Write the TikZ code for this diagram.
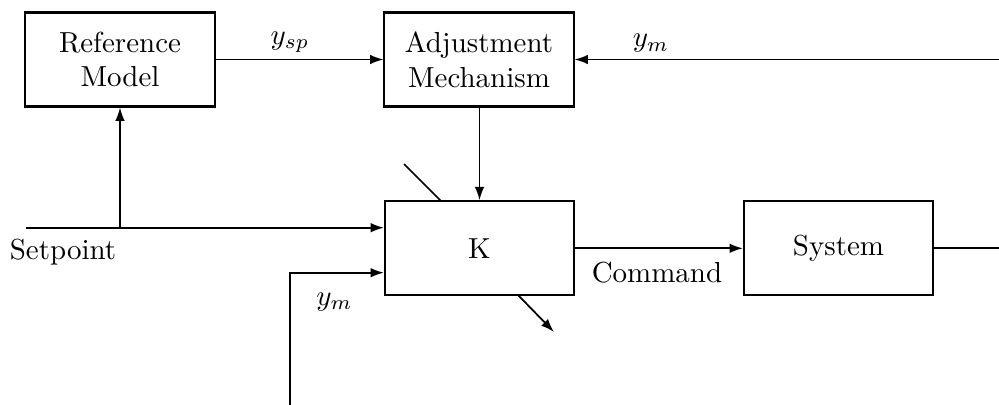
\documentclass[tikz,border=0pt]{standalone}
\usetikzlibrary{arrows.meta,calc}
\begin{document}
\begin{tikzpicture}[x=0.01213cm,y=-0.01213cm,
  blockbox/.style={draw,line width=0.7pt,fill=white,minimum width=2.293cm,minimum height=1.14cm,inner sep=0pt,align=center},
  conn/.style={line width=0.6pt},
  arr/.style={conn,-{Latex[length=4.6pt,width=3.3pt]}},
  lbl/.style={inner sep=0pt}]
\useasboundingbox (0,0) rectangle (999,405);
% diagonal adjustable-parameter arrow (behind K)
\coordinate (d1) at (404,164);
\coordinate (d2) at (441,201);
\coordinate (d3) at (518,295);
\coordinate (d4) at (554,332);
\draw[conn] (d1) -- (d2);
\draw[arr] (d3) -- (d4);
% blocks
\node[blockbox] (ref) at (120,59.5) {Reference\\Model};
\node[blockbox] (adj) at (479,59.5) {Adjustment\\Mechanism};
\node[blockbox] (K) at (479.5,248.3) {K};
\node[blockbox] (sys) at (838.5,248.3) {System};
% free ends
\coordinate (ymtop) at (999,59.5);
\coordinate (sp0) at (26,227.7);
\coordinate (spbr) at (120,227.7);
\coordinate (spin) at (K.west |- sp0);
\coordinate (ymb0) at (290,405);
\coordinate (ymb1) at (290,272.7);
\coordinate (ymin) at (K.west |- ymb1);
\coordinate (out) at (999,248.3);
% connectors
\draw[arr] (ref.east) -- (adj.west);
\draw[arr] (ymtop) -- (adj.east);
\draw[arr] (adj.south -| K.north) -- (K.north);
\draw[arr] (sp0) -- (spin);
\draw[arr] (spbr) -- (ref.south);
\draw[arr] (ymb0) -- (ymb1) -- (ymin);
\draw[arr] (K.east) -- (sys.west);
\draw[conn] (sys.east) -- (out);
% labels
\node[lbl] (lysp) at (290,42) {$y_{sp}$};
\node[lbl] (lymt) at (651,43.5) {$y_m$};
\node[lbl] (lymb) at (334.5,302) {$y_m$};
\node[lbl] (lsp) at (63,252) {Setpoint};
\node[lbl] (lcmd) at (657,273) {Command};
\end{tikzpicture}
\end{document}
